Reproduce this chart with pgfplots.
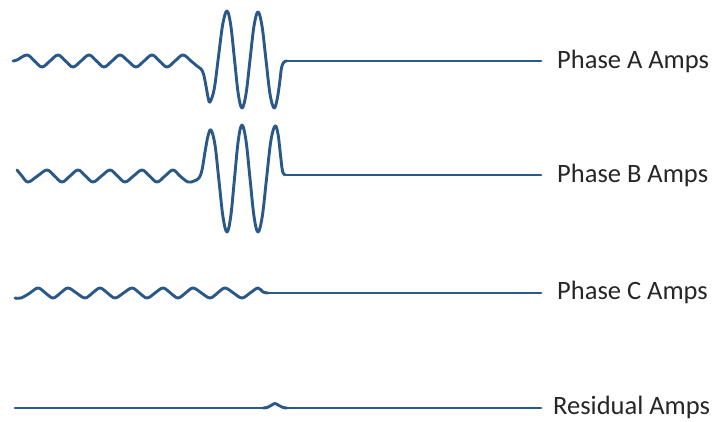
\documentclass[border=0pt]{standalone}
\usepackage{fontspec}
\setmainfont{Carlito}
\usepackage{pgfplots}
\pgfplotsset{compat=1.18}
\definecolor{wave}{RGB}{42,88,136}
\definecolor{labelgray}{RGB}{38,38,38}
\begin{document}
\begin{tikzpicture}
\begin{axis}[
  width=717pt, height=422pt,
  scale only axis,
  xmin=0, xmax=717,
  ymin=0, ymax=422,
  y dir=reverse,
  hide axis,
  clip=false,
  every axis plot/.append style={wave, no marks, line width=2.9pt, line join=round, line cap=round},
]
\path (axis cs:0,0) rectangle (axis cs:717,422);

% Phase A: ripple, fault burst, then flat
\addplot[smooth, tension=0.6] coordinates {
(13,61)(17,60)(27,55)(34.5,61)(42,67)(50,61)(58,55)(65.5,61)(73,67)(81,61)
(89,55)(96.5,61)(104,67)(112,61)(120,55)(128,61)(136,67)(144,61)(152,55)
(159.5,61)(167,67)(175,61)(183,55)(191,61)(197,66)(201,69)(203.5,74)(206,86)
(208,97)(210,102)
(214.25,88.7)(218.5,56.5)(222.75,24.3)(227,11)
(230.75,25.2)(234.5,59.5)(238.25,93.8)(242,108)
(246,94)(250,60)(254,26)(258,12)
(262,26)(266,60)(270,94)(274,108)
(277,100)(279.5,84)(281.5,68)(284,62)(287,61)
};
\addplot[sharp plot] coordinates {(287,61)(541,61)};

% Phase B
\addplot[smooth, tension=0.6] coordinates {
(17,170)(22,176)(28,182)(37.5,176)(47,170)(54.5,176)(62,182)(70,176)(78,170)
(85.5,176)(93,182)(101.5,176)(110,170)(117.5,176)(125,182)(133.5,176)(142,170)
(149.5,176)(157,182)(165,176)(173,170)(180,176)(188,182)(194,181)(199,178)
(202,170)(205,152)(208,136)(211,130)
(215,145)(219,181)(223,217)(227,232)
(230.75,216.3)(234.5,178.5)(238.25,140.7)(242,125)
(246,140.7)(250,178.5)(254,216.3)(258,232)
(262.25,216.5)(266.5,179)(270.75,141.5)(275,126)
(278,134)(280.5,155)(282.5,171)(285,175)
};
\addplot[sharp plot] coordinates {(285,175)(541,175)};

% Phase C
\addplot[smooth, tension=0.6] coordinates {
(15,298)(21,298)(30,293)(38,288)(45.5,293)(53,298)(60.5,293)(68,288)(76.5,293)
(85,298)(92.5,293)(100,288)(107.5,293)(115,298)(123.5,293)(132,288)(139.5,293)
(147,298)(155,293)(163,288)(170.5,293)(178,298)(185.5,293)(193,288)(201.5,293)
(210,298)(217.5,293)(225,288)(233.5,293)(242,298)(250,293)(258,288)(263,292)
(268,293)
};
\addplot[sharp plot] coordinates {(268,293)(541,293)};

% Residual
\addplot[sharp plot] coordinates {(15,408)(263,408)};
\addplot[smooth, tension=0.6] coordinates {
(263,408)(267,407.5)(271,405.5)(275,403.5)(279,405.5)(283,407.5)(287,408)
};
\addplot[sharp plot] coordinates {(287,408)(541,408)};

\begin{scope}[every node/.style={anchor=west, text=labelgray, font=\fontsize{26.5}{30}\selectfont, inner sep=0pt}]
\node at (axis cs:557,61) {Phase A Amps};
\node at (axis cs:557,175) {Phase B Amps};
\node at (axis cs:557,292) {Phase C Amps};
\node at (axis cs:553,407) {Residual Amps};
\end{scope}
\end{axis}
\end{tikzpicture}
\end{document}
